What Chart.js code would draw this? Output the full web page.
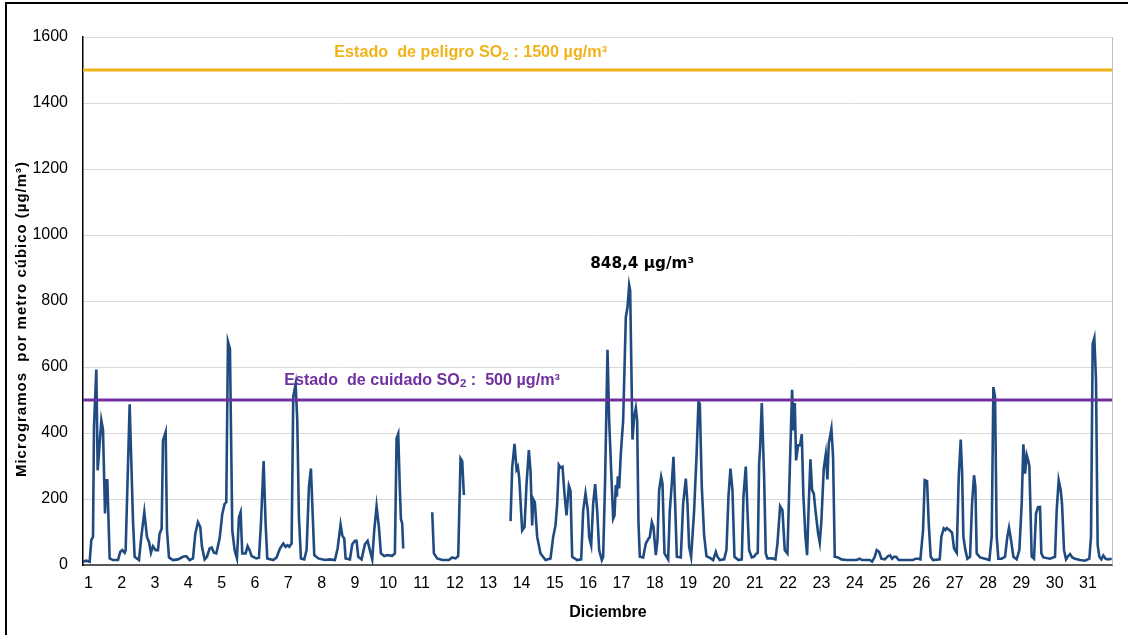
<!DOCTYPE html>
<html>
<head>
<meta charset="utf-8">
<script src="https://cdn.jsdelivr.net/npm/chart.js@4/dist/chart.umd.min.js"></script>
<style>
  html, body { margin: 0; padding: 0; background: #fff; }
  #wrap { position: relative; width: 1128px; height: 635px; overflow: hidden; }
  #frame { position: absolute; left: 5px; top: 2px; width: 1200px; height: 700px;
           border-left: 2px solid #000; border-top: 2px solid #000; pointer-events: none; }
</style>
</head>
<body>
<div id="wrap">
  <canvas id="chart-so2" width="1128" height="635"></canvas>
  <div id="frame"></div>
</div>
<script>
// ─── Data (position in days, SO2 µg/m³) ───────────────────────────────────────
const dayPos = [
  0.84,0.94,1.04,1.09,1.14,1.17,1.24,1.28,1.34,1.39,1.44,1.50,1.54,1.57,1.64,1.74,1.89,1.96,
  2.02,2.09,2.12,2.24,2.34,2.39,2.52,2.59,2.68,2.76,2.82,2.88,2.94,
  3.02,3.09,3.14,3.20,3.24,3.32,3.36,3.42,3.54,3.69,3.84,3.94,
  4.04,4.14,4.21,4.29,4.36,4.41,4.49,4.56,4.64,4.70,4.77,4.84,4.94,
  5.02,5.09,5.14,5.19,5.25,5.32,5.39,5.46,5.52,5.57,5.62,5.72,5.78,5.84,5.90,
  6.04,6.12,6.18,6.26,6.32,6.37,6.55,6.65,6.75,6.85,6.92,6.98,
  7.03,7.10,7.15,7.22,7.27,7.32,7.38,7.48,7.55,7.62,7.68,7.72,7.78,7.90,
  8.10,8.25,8.40,8.48,8.57,8.62,8.68,8.72,8.85,8.92,
  9.00,9.05,9.10,9.20,9.30,9.38,9.45,9.52,9.58,9.65,9.72,9.78,9.88,9.98,
  10.12,10.20,10.25,10.30,10.35,10.38,10.42,10.45,10.90,
  11.32,11.37,11.47,11.62,11.82,11.92,
  12.02,12.10,12.17,12.22,12.27,13.00,
  13.67,13.72,13.79,13.85,13.89,13.93,
  14.02,14.09,14.15,14.22,14.27,14.32,14.35,14.40,14.47,14.57,14.72,14.87,14.95,
  15.02,15.07,15.12,15.17,15.23,15.29,15.35,15.42,15.47,15.52,15.67,15.79,15.85,15.92,15.99,
  16.03,16.09,16.15,16.21,16.27,16.33,16.41,16.45,16.51,16.58,16.63,16.69,16.75,16.79,16.83,16.86,16.89,16.93,16.98,
  17.05,17.13,17.18,17.23,17.26,17.33,17.38,17.43,17.47,17.51,17.55,17.65,17.73,17.81,17.85,17.91,17.96,
  18.03,18.08,18.13,18.19,18.23,18.29,18.40,18.45,18.51,18.56,18.61,18.66,18.78,18.85,18.93,18.98,
  19.03,19.09,19.18,19.25,19.31,19.35,19.41,19.48,19.55,19.68,19.75,19.83,19.88,19.95,
  20.08,20.15,20.21,20.27,20.33,20.39,20.51,20.61,20.66,20.73,20.78,20.83,20.91,20.98,
  21.03,21.09,21.13,21.16,21.21,21.28,21.33,21.38,21.53,21.62,21.68,21.76,21.83,21.90,21.98,
  22.05,22.12,22.16,22.20,22.24,22.30,22.36,22.41,22.46,22.52,22.57,22.62,22.67,22.72,22.77,22.82,22.90,22.95,
  23.00,23.07,23.13,23.18,23.22,23.30,23.35,23.40,23.50,23.60,23.75,
  24.05,24.15,24.22,24.45,24.52,24.60,24.66,24.73,24.80,24.90,
  25.00,25.06,25.12,25.18,25.24,25.32,25.75,25.82,25.90,25.97,
  26.05,26.10,26.17,26.22,26.28,26.35,26.55,26.60,26.67,26.72,26.76,26.84,26.92,26.98,
  27.06,27.12,27.18,27.22,27.26,27.32,27.38,27.46,27.52,27.58,27.62,27.66,27.76,27.91,
  28.04,28.11,28.16,28.21,28.26,28.31,28.41,28.51,28.58,28.63,28.69,28.76,28.86,28.94,
  29.01,29.06,29.11,29.16,29.21,29.24,29.31,29.38,29.44,29.50,29.56,29.60,29.66,29.86,
  30.01,30.06,30.12,30.18,30.22,30.28,30.34,30.39,30.46,30.53,30.61,30.76,30.91,
  31.04,31.09,31.14,31.19,31.24,31.29,31.34,31.40,31.46,31.53,31.61,31.71
];
const so2Values = [
  10,13,10,76,85,420,592,287,368,438,410,156,257,257,20,15,15,40,
  45,37,45,487,135,25,15,85,160,85,70,37,57,
  45,45,95,110,377,403,106,23,15,17,25,27,
  15,20,95,130,115,55,17,25,50,53,37,35,80,
  155,185,190,677,655,105,45,20,145,160,35,35,57,45,27,
  20,22,125,315,125,20,15,23,50,65,55,60,
  55,65,510,548,440,145,20,17,45,237,292,187,30,20,
  15,17,15,50,122,90,80,20,17,63,
  73,73,25,17,63,73,45,17,105,178,115,35,27,30,
  28,35,383,397,225,140,125,50,null,
  160,35,20,15,15,23,
  20,27,323,315,212,null,
  133,295,367,290,298,265,
  105,115,245,348,285,120,200,190,85,35,15,20,85,
  120,185,303,295,298,215,150,240,225,25,15,17,165,217,165,
  85,60,185,245,165,45,15,25,265,652,438,287,140,150,242,207,269,232,338,
  438,751,781,848.4,832,380,448,476,438,126,25,23,65,80,85,130,115,
  30,75,227,267,247,35,17,165,247,328,186,25,23,186,262,186,
  55,25,165,327,494,489,237,90,27,20,15,40,25,15,
  17,45,207,292,227,25,15,17,207,298,166,45,23,25,
  33,37,307,355,491,267,35,20,20,17,65,178,166,45,35,
  287,531,408,491,317,363,363,396,207,86,30,186,320,227,217,166,96,68,
  136,292,335,259,368,413,327,25,23,17,15,
  15,19,15,15,10,25,45,40,19,17,
  27,29,19,25,25,15,15,19,19,17,
  106,257,254,126,25,15,17,86,111,106,112,106,98,50,
  37,267,380,287,86,45,19,25,186,272,237,35,23,19,
  15,86,539,509,86,19,19,25,86,113,76,25,17,45,
  186,366,277,333,315,300,25,19,156,175,176,35,23,19,
  25,166,257,227,186,45,17,25,33,23,19,15,13,
  19,86,670,688,560,60,25,17,29,19,17,19
];
const dayTicks = [1,2,3,4,5,6,7,8,9,10,11,12,13,14,15,16,17,18,19,20,21,22,23,24,25,26,27,28,29,30,31];
const yTicks = [0,200,400,600,800,1000,1200,1400,1600];
const peligroLimit = 1500;
const cuidadoLimit = 500;
const xMin = 0.84, xMax = 31.72;

const COLORS = {
  series: '#204B80',
  peligro: '#F0B31A',
  cuidado: '#7030A0',
  grid: '#d9d9d9',
};
const FONT = "'Liberation Sans', Arial, sans-serif";

// draws a run of text parts (with optional subscript), scaled to a target width
function drawRich(ctx, parts, x, y, targetW, family, color) {
  const widthAt = size => parts.reduce((w, p) => {
    ctx.font = `bold ${p.sub ? size * 0.72 : size}px ${family}`;
    return w + ctx.measureText(p.t).width;
  }, 0);
  const size = 16 * targetW / widthAt(16);
  ctx.fillStyle = color;
  ctx.textAlign = 'left';
  ctx.textBaseline = 'middle';
  let cx = x;
  parts.forEach(p => {
    ctx.font = `bold ${p.sub ? size * 0.72 : size}px ${family}`;
    ctx.fillText(p.t, cx, p.sub ? y + size * 0.22 : y);
    cx += ctx.measureText(p.t).width;
  });
}

// ─── Annotation + titles plugin ───────────────────────────────────────────────
const textPlugin = {
  id: 'so2Text',
  beforeDatasetsDraw(chart) {
    const { ctx, scales: { x, y } } = chart;
    ctx.save();
    drawRich(ctx, [{ t: 'Estado  de peligro SO' }, { t: '2', sub: true }, { t: ' : 1500 \u00b5g/m\u00b3' }],
      x.getPixelForValue(8.38), y.getPixelForValue(1552), 273, FONT, COLORS.peligro);
    drawRich(ctx, [{ t: 'Estado  de cuidado SO' }, { t: '2', sub: true }, { t: ' :  500 \u00b5g/m\u00b3' }],
      x.getPixelForValue(6.88), y.getPixelForValue(560), 276, FONT, COLORS.cuidado);
    drawRich(ctx, [{ t: '848,4 \u00b5g/m\u00b3' }],
      x.getPixelForValue(16.06), y.getPixelForValue(913), 104, "'DejaVu Sans', sans-serif", '#000');
    ctx.restore();
  },
  afterDraw(chart) {
    const { ctx, chartArea } = chart;
    ctx.save();
    // right edge of plot area
    ctx.strokeStyle = '#bfbfbf';
    ctx.lineWidth = 1;
    ctx.beginPath();
    ctx.moveTo(chartArea.right + 0.5, chartArea.top);
    ctx.lineTo(chartArea.right + 0.5, chartArea.bottom);
    ctx.stroke();
    // axis titles
    ctx.fillStyle = '#000';
    ctx.textAlign = 'center';
    ctx.textBaseline = 'middle';
    ctx.font = `bold 16px ${FONT}`;
    ctx.fillText('Diciembre', 608, 613);
    ctx.translate(22, 319);
    ctx.rotate(-Math.PI / 2);
    ctx.font = `bold 15px ${FONT}`;
    const yTitle = 'Microgramos  por metro c\u00fabico (\u00b5g/m\u00b3)';
    const extra = (316 - ctx.measureText(yTitle).width) / yTitle.length;
    ctx.letterSpacing = `${Math.max(0, extra).toFixed(2)}px`;
    ctx.fillText(yTitle, 0, 0);
    ctx.restore();
  }
};

// ─── Chart ────────────────────────────────────────────────────────────────────
const seriesData = dayPos.map((d, i) => ({ x: d, y: so2Values[i] }));

new Chart(document.getElementById('chart-so2'), {
  type: 'line',
  data: {
    datasets: [
      {
        label: 'Estado de cuidado',
        data: [{ x: xMin, y: cuidadoLimit }, { x: xMax, y: cuidadoLimit }],
        borderColor: COLORS.cuidado, borderWidth: 3, pointRadius: 0,
      },
      {
        label: 'Estado de peligro',
        data: [{ x: xMin, y: peligroLimit }, { x: xMax, y: peligroLimit }],
        borderColor: COLORS.peligro, borderWidth: 3, pointRadius: 0,
      },
      {
        label: 'SO2',
        data: seriesData,
        borderColor: COLORS.series, borderWidth: 2.6, pointRadius: 0,
        tension: 0, spanGaps: false,
      },
    ],
  },
  options: {
    responsive: false,
    animation: false,
    devicePixelRatio: 1,
    layout: { padding: { top: 37, right: 16, left: 0, bottom: 0 } },
    plugins: { legend: { display: false }, tooltip: { enabled: false } },
    scales: {
      x: {
        type: 'linear', min: xMin, max: xMax,
        afterBuildTicks: s => { s.ticks = dayTicks.map(v => ({ value: v })); },
        afterFit: s => { s.height = 70; },
        grid: { display: false, drawTicks: false },
        border: { color: '#595959', width: 2 },
        ticks: { autoSkip: false, maxRotation: 0, padding: 9, color: '#000',
                 font: { family: FONT, size: 16 }, callback: v => String(v) },
      },
      y: {
        min: 0, max: 1600,
        afterBuildTicks: s => { s.ticks = yTicks.map(v => ({ value: v })); },
        afterFit: s => { s.width = 83; },
        grid: { color: COLORS.grid, lineWidth: 1, drawTicks: false },
        border: { color: '#000', width: 1.5 },
        ticks: { padding: 15, color: '#000', font: { family: FONT, size: 16 },
                 callback: v => String(v) },
      },
    },
  },
  plugins: [textPlugin],
});
</script>
</body>
</html>
